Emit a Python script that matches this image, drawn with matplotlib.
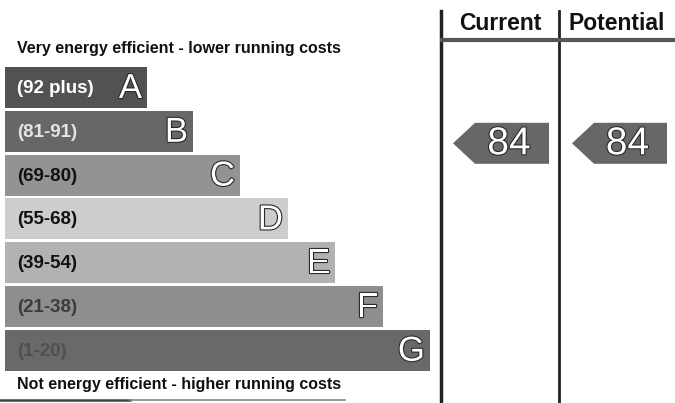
import matplotlib
matplotlib.use("Agg")
import matplotlib.pyplot as plt
from matplotlib.patches import Polygon, Rectangle
import matplotlib.patheffects as pe

# ---- data ----
bands = ["A", "B", "C", "D", "E", "F", "G"]
ranges = ["(92 plus)", "(81-91)", "(69-80)", "(55-68)", "(39-54)", "(21-38)", "(1-20)"]
band_lengths = [142, 188, 235, 283, 330, 378, 425]
band_lows = [92, 81, 69, 55, 39, 21, 1]
band_colors = ["#525252", "#676767", "#939393", "#cdcdcd", "#b2b2b2", "#8e8e8e", "#696969"]
range_text_colors = ["white", "#e4e4e4", "#111111", "#111111", "#111111", "#3c3c3c", "#505050"]
current_value = 84
potential_value = 84
header_current = "Current"
header_potential = "Potential"
top_text = "Very energy efficient - lower running costs"
bottom_text = "Not energy efficient - higher running costs"

W, H = 675, 403
fig = plt.figure(figsize=(6.75, 4.03), dpi=100)
ax = fig.add_axes([0, 0, 1, 1])
ax.set_xlim(0, W)
ax.set_ylim(H, 0)
ax.axis("off")

font = "Liberation Sans"
x0 = 5
top0 = 67
step = 43.8
bh = 41
outline = [pe.withStroke(linewidth=1.6, foreground="#2a2a2a")]

for i, (b, r, L, c, tc) in enumerate(zip(bands, ranges, band_lengths, band_colors, range_text_colors)):
    y = top0 + i * step
    ax.add_patch(Rectangle((x0, y), L, bh, facecolor=c, edgecolor="none"))
    ax.text(x0 + 12, y + bh / 2 + 1, r, fontsize=13.5, fontweight="bold", color=tc,
            va="center", ha="left", family=font)
    ax.text(x0 + L - 5, y + bh / 2 + 1, b, fontsize=25, color="white", va="center", ha="right",
            family=font, path_effects=outline)

ax.text(17, 48, top_text, fontsize=11.5, fontweight="bold", va="center", ha="left", family=font, color="#111111")
ax.text(17, 385, bottom_text, fontsize=11.5, fontweight="bold", va="center", ha="left", family=font, color="#111111")

# columns
ax.plot([441, 441], [11, 403], color="#222222", lw=2.5)
ax.plot([559, 559], [11, 403], color="#222222", lw=2)
ax.plot([442, 675], [40, 40], color="#555555", lw=3)
ax.plot([0, 130], [400, 400], color="#444444", lw=1.8)
ax.plot([130, 345], [400, 400], color="#888888", lw=1.2)
ax.text(500, 23, header_current, fontsize=16.5, fontweight="bold", ha="center", va="center", family=font, color="#111111")
ax.text(617, 23, header_potential, fontsize=16.5, fontweight="bold", ha="center", va="center", family=font, color="#111111")

def band_index(v):
    for i, lo in enumerate(band_lows):
        if v >= lo:
            return i
    return len(band_lows) - 1

def arrow(xl, xr, v):
    i = band_index(v)
    y = top0 + i * step + 12
    yc = y + bh / 2
    tip = 22
    pts = [(xl, yc), (xl + tip, y), (xr, y), (xr, y + bh), (xl + tip, y + bh)]
    ax.add_patch(Polygon(pts, closed=True, facecolor=band_colors[i], edgecolor="none"))
    ax.text((xl + tip + xr) / 2 - 3, yc + 1, str(v), fontsize=28, color="white", ha="center", va="center",
            family=font, path_effects=outline)

arrow(453, 549, current_value)
arrow(572, 667, potential_value)

fig.savefig("out.png", dpi=100, facecolor="white")
